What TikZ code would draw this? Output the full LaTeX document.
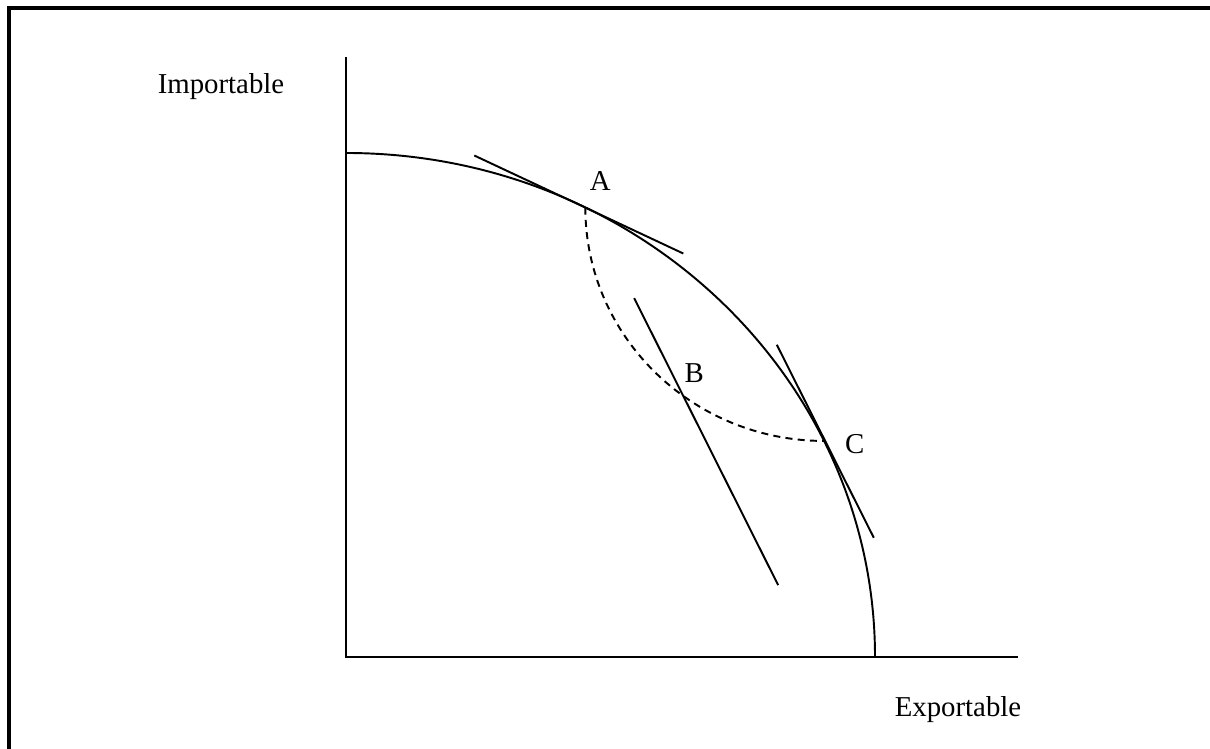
\documentclass[tikz,border=0pt]{standalone}
\usepackage{fontspec}
\setmainfont{Liberation Serif}
\usetikzlibrary{calc}
\tikzset{
  frm/.style={line width=1.8pt,draw=black},
  ax/.style={line width=1.1pt,draw=black},
  crv/.style={line width=1.1pt,draw=black},
  dsh/.style={line width=1.1pt,draw=black,dash pattern=on 4pt off 3pt},
  lbl/.style={font=\fontsize{16.4}{19}\selectfont,inner sep=0pt,anchor=base},
}
\begin{document}
\begin{tikzpicture}[x=0.02cm,y=0.02cm]
  \useasboundingbox (0,0) rectangle (1210,749);
  % cadre
  \draw[frm] (9,0) -- (9,741) -- (1210,741);
  % axes
  \coordinate (O) at (346,92);
  \coordinate (ytop) at (346,692);
  \coordinate (xend) at (1018,92);
  \draw[ax] (ytop) -- (O) -- (xend);
  \node[lbl] (imp) at (221,655) {Importable};
  \node[lbl] (exp) at (958,32) {Exportable};
  % frontiere
  \draw[crv] (346,596) arc[start angle=90,end angle=0,x radius=529,y radius=504];
  \coordinate (A) at ($(O)+(63.1:529 and 504)$);
  \coordinate (C) at ($(O)+(25.4:529 and 504)$);
  \coordinate (B) at ($(A)+(239,0)+(233.5:239 and 233.4)$);
  % chemin pointille
  \draw[dsh] (A) arc[start angle=180,end angle=270,x radius=239,y radius=233.4];
  % tangentes
  \draw[crv] ($(A)+(-111,52)$) -- ($(A)+(98,-46)$);
  \draw[crv] ($(C)+(-47,96)$) -- ($(C)+(50,-97)$);
  \draw[crv] ($(B)+(-48,97)$) -- ($(B)+(96,-190)$);
  % points
  \node[lbl] (la) at ($(A)+(15,17)$) {A};
  \node[lbl] (lb) at ($(B)+(12,13)$) {B};
  \node[lbl] (lc) at ($(C)+(31,-13)$) {C};
\end{tikzpicture}
\end{document}
